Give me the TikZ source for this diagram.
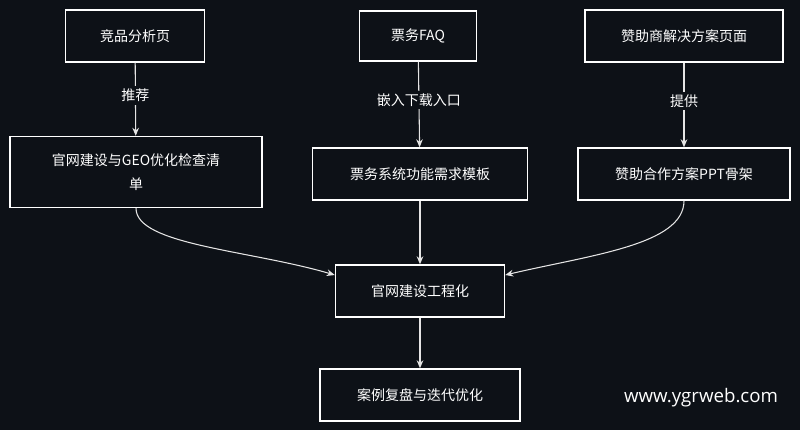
\documentclass[tikz,border=0pt]{standalone}
\usepackage{fontspec}
\usetikzlibrary{arrows.meta}
\setmainfont{Noto Sans CJK SC}
\newfontfamily\wmfont{Open Sans}
\begin{document}
\begin{tikzpicture}[x=0.75pt,y=-0.75pt,
  box/.style={draw=white,line width=1.1pt,text=white,align=center,font=\fontsize{10.5}{18}\selectfont,inner sep=0pt},
  lab/.style={text=white,fill=bgc,font=\fontsize{10.5}{13}\selectfont,inner sep=2pt},
  arr/.style={draw=white!90!black,line width=0.8pt,-{Stealth[length=6pt,width=5pt]}}]
\definecolor{bgc}{HTML}{0D1117}
\fill[bgc] (0,0) rectangle (800,430);
\useasboundingbox (0,0) rectangle (800,430);
\node[box,minimum width=139*0.75pt,minimum height=52*0.75pt] (a) at (135,36) {竞品分析页};
\node[box,minimum width=117*0.75pt,minimum height=50*0.75pt] (b) at (418,36) {票务FAQ};
\node[box,minimum width=198*0.75pt,minimum height=52*0.75pt] (c) at (684,36) {赞助商解决方案页面};
\node[box,minimum width=252*0.75pt,minimum height=71*0.75pt] (d) at (136,172) {官网建设与GEO优化检查清\\单};
\node[box,minimum width=215*0.75pt,minimum height=52*0.75pt] (e) at (420,174) {票务系统功能需求模板};
\node[box,minimum width=212*0.75pt,minimum height=52*0.75pt] (f) at (684,174) {赞助合作方案PPT骨架};
\node[box,minimum width=169*0.75pt,minimum height=52*0.75pt] (g) at (420,291) {官网建设工程化};
\node[box,minimum width=200*0.75pt,minimum height=52*0.75pt] (h) at (420,395) {案例复盘与迭代优化};
\draw[arr] (a) -- (d) node[lab,pos=0.45] {推荐};
\draw[arr] (b) -- (e) node[lab,pos=0.45] {嵌入下载入口};
\draw[arr] (c) -- (f) node[lab,pos=0.45] {提供};
\draw[arr] (d.south) .. controls (136,245) and (250,250) .. (g.west |- 0,275);
\draw[arr] (e) -- (g);
\draw[arr] (f.south) .. controls (684,245) and (590,255) .. (g.east |- 0,275);
\draw[arr] (g) -- (h);
\node[text=white,font=\wmfont\fontsize{14}{16}\selectfont] (w) at (701,398) {www.ygrweb.com};
\end{tikzpicture}
\end{document}
